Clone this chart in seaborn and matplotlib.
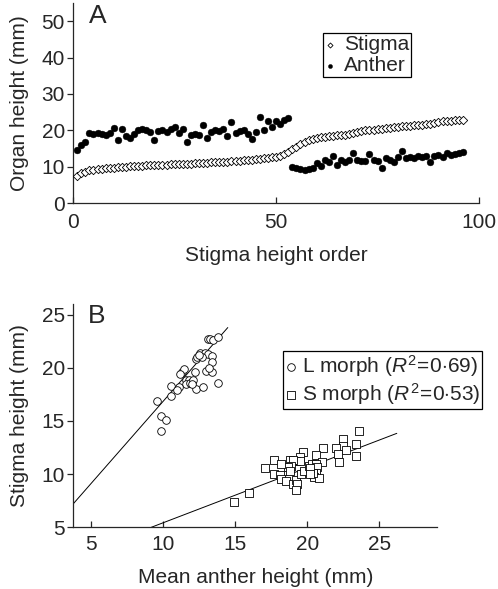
import numpy as np
import pandas as pd
import matplotlib
matplotlib.use("Agg")
import matplotlib.pyplot as plt
import seaborn as sns

# ---------------- Panel A data ----------------
stigma_a = [7.5, 8.2, 8.7, 9.0, 9.2, 9.4, 9.5, 9.6, 9.7, 9.8,
            9.9, 10.0, 10.0, 10.1, 10.2, 10.2, 10.3, 10.4, 10.4, 10.5,
            10.5, 10.6, 10.6, 10.7, 10.7, 10.8, 10.8, 10.9, 10.9, 11.0,
            11.0, 11.1, 11.1, 11.2, 11.2, 11.3, 11.4, 11.4, 11.5, 11.6,
            11.7, 11.8, 11.9, 12.0, 12.1, 12.2, 12.3, 12.5, 12.6, 12.8,
            13.0, 13.4, 14.0, 14.8, 15.5, 16.2, 16.8, 17.3, 17.7, 18.0,
            18.2, 18.3, 18.4, 18.5, 18.6, 18.7, 18.8, 19.0, 19.2, 19.5,
            19.8, 20.0, 20.1, 20.2, 20.4, 20.5, 20.6, 20.7, 20.8, 21.0,
            21.1, 21.2, 21.3, 21.4, 21.5, 21.6, 21.7, 21.8, 22.0, 22.3,
            22.6, 22.7, 22.7, 22.8, 22.8, 22.8]
anther_a = [14.6, 16.0, 16.8, 19.2, 19.0, 19.3, 19.0, 18.7, 19.4, 20.6,
            17.3, 20.3, 18.4, 18.0, 19.0, 20.2, 20.5, 20.0, 19.6, 17.4,
            19.8, 20.2, 19.6, 20.3, 21.0, 19.2, 20.5, 16.9, 18.6, 19.0,
            18.8, 21.5, 18.0, 19.6, 20.2, 19.8, 20.4, 18.5, 22.4, 19.4,
            19.8, 20.1, 19.0, 17.6, 19.5, 23.7, 20.2, 22.5, 21.0, 22.5,
            21.8, 22.8, 23.4,
            10.0, 9.6, 9.4, 9.2, 9.5, 9.8, 11.0, 10.2, 11.9, 11.2,
            13.0, 10.5, 11.9, 11.4, 11.8, 13.9, 11.9, 11.5, 11.6, 13.4,
            11.8, 11.5, 9.8, 12.3, 12.0, 11.4, 12.6, 14.3, 12.4, 12.8,
            12.5, 13.0, 12.6, 12.9, 11.4, 13.0, 13.2, 12.8, 13.8, 13.2,
            13.5, 13.9, 14.2]
order_a = list(range(1, len(stigma_a) + 1))

# ---------------- Panel B data ----------------
l_anther = [13.1, 13.3, 13.5, 13.8, 12.6, 12.9, 13.1, 12.3, 12.4, 12.7,
            13.4, 13.4, 13.0, 13.4, 12.2, 11.3, 11.5, 13.8, 11.6, 11.8,
            12.0, 11.6, 11.9, 12.1, 12.3, 12.8, 10.6, 11.1, 11.0, 10.6,
            9.6, 9.9, 10.2, 9.9, 12.5, 12.0, 11.2, 13.2]
l_stigma = [22.7, 22.7, 22.6, 22.9, 21.4, 21.4, 21.3, 20.8, 21.0, 21.0,
            21.1, 20.5, 19.7, 19.6, 19.6, 19.6, 19.9, 18.6, 18.8, 18.8,
            18.7, 18.5, 18.6, 18.8, 18.0, 18.2, 18.3, 18.2, 17.9, 17.3,
            16.9, 15.5, 15.1, 14.0, 21.2, 18.5, 19.4, 20.0]
s_anther = [23.6, 22.5, 22.5, 23.4, 22.7, 22.0, 22.1, 23.4, 22.2, 21.1,
            20.6, 21.0, 19.7, 19.5, 19.2, 19.5, 18.8, 19.0, 18.9, 18.7,
            18.8, 17.7, 18.2, 17.1, 17.7, 18.1, 18.2, 18.5, 19.0, 19.2,
            19.3, 19.2, 19.6, 19.8, 20.1, 20.3, 20.4, 20.6, 20.7, 20.6,
            20.4, 20.5, 20.8, 20.4, 20.2, 20.2, 16.0, 14.9]
s_stigma = [14.0, 13.3, 12.6, 12.8, 12.3, 12.4, 11.9, 11.7, 11.1, 12.4,
            11.8, 11.1, 12.1, 11.6, 11.2, 11.2, 11.3, 11.3, 10.8, 10.7,
            10.3, 11.3, 10.9, 10.6, 10.0, 9.9, 9.5, 9.3, 9.1, 9.4,
            9.1, 8.5, 10.0, 10.3, 10.8, 10.9, 10.5, 10.9, 10.7, 10.1,
            10.0, 9.7, 9.6, 10.1, 10.6, 10.0, 8.2, 7.4]
# fitted regression lines: slope, intercept, x-range
l_fit = {"slope": 1.55, "intercept": 1.3, "x": [3.8, 14.5]}
s_fit = {"slope": 0.52, "intercept": 0.2, "x": [9.2, 26.2]}
labels_b = ["L morph ($R^2\\!=\\!0{\\cdot}69$)", "S morph ($R^2\\!=\\!0{\\cdot}53$)"]

FS = 15

sns.set_style("ticks")
plt.rcParams["font.family"] = ["Liberation Sans", "DejaVu Sans"]
plt.rcParams["mathtext.fontset"] = "custom"
plt.rcParams["mathtext.rm"] = "Liberation Sans"
plt.rcParams["mathtext.it"] = "Liberation Sans:italic"
plt.rcParams["axes.linewidth"] = 0.9

fig = plt.figure(figsize=(4.98, 5.89), dpi=100)
axA = fig.add_axes([0.147, 0.655, 0.815, 0.34])
axB = fig.add_axes([0.147, 0.105, 0.731, 0.379])

dfA = pd.DataFrame({"order": order_a + order_a,
                    "height": stigma_a + anther_a,
                    "organ": ["Stigma"] * len(stigma_a) + ["Anther"] * len(anther_a)})
sns.scatterplot(data=dfA[dfA.organ == "Stigma"], x="order", y="height", ax=axA,
                marker="D", s=18, facecolor="white", edgecolor="black",
                linewidth=0.6, label="Stigma", zorder=3)
sns.scatterplot(data=dfA[dfA.organ == "Anther"], x="order", y="height", ax=axA,
                marker="o", s=24, color="black", edgecolor="black",
                linewidth=0.3, label="Anther", zorder=3)
axA.set_xlim(0, 100)
axA.set_ylim(0, 55)
axA.set_xticks([0, 50, 100])
axA.set_yticks([0, 10, 20, 30, 40, 50])
axA.set_xlabel("Stigma height order", fontsize=FS, labelpad=10)
axA.set_ylabel("Organ height (mm)", fontsize=FS, labelpad=9)
axA.tick_params(axis="y", direction="out", length=4, width=0.9, labelsize=FS, pad=2)
axA.tick_params(axis="x", direction="in", length=4, width=0.9, labelsize=FS, pad=7)
sns.despine(ax=axA)
axA.text(0.06, 0.935, "A", transform=axA.transAxes, fontsize=19,
         ha="center", va="center")
legA = axA.legend(loc="upper left", bbox_to_anchor=(0.615, 0.85), fontsize=FS,
                  frameon=True, fancybox=False, edgecolor="black", framealpha=1,
                  handlelength=0.5, handletextpad=0.4, borderpad=0.1,
                  labelspacing=0.1, borderaxespad=0, markerscale=0.6)
legA.get_frame().set_linewidth(0.9)

dfB = pd.DataFrame({"anther": l_anther + s_anther,
                    "stigma": l_stigma + s_stigma,
                    "morph": ["L"] * len(l_anther) + ["S"] * len(s_anther)})
sns.scatterplot(data=dfB[dfB.morph == "L"], x="anther", y="stigma", ax=axB,
                marker="o", s=30, facecolor="white", edgecolor="black",
                linewidth=0.6, label=labels_b[0], zorder=3)
sns.scatterplot(data=dfB[dfB.morph == "S"], x="anther", y="stigma", ax=axB,
                marker="s", s=26, facecolor="white", edgecolor="black",
                linewidth=0.6, label=labels_b[1], zorder=3)
for fit in (l_fit, s_fit):
    xs = np.array(fit["x"])
    sns.lineplot(x=xs, y=fit["slope"] * xs + fit["intercept"], ax=axB,
                 color="black", linewidth=0.7, zorder=2)
axB.set_xlim(3.8, 29)
axB.set_ylim(5, 26)
axB.set_xticks([5, 10, 15, 20, 25])
axB.set_yticks([5, 10, 15, 20, 25])
axB.set_xlabel("Mean anther height (mm)", fontsize=FS, labelpad=10)
axB.set_ylabel("Stigma height (mm)", fontsize=FS, labelpad=9)
axB.tick_params(axis="y", direction="out", length=4, width=0.9, labelsize=FS, pad=2)
axB.tick_params(axis="x", direction="in", length=4, width=0.9, labelsize=FS, pad=6)
sns.despine(ax=axB)
axB.text(0.065, 0.946, "B", transform=axB.transAxes, fontsize=19,
         ha="center", va="center")
legB = axB.legend(loc="upper right", bbox_to_anchor=(1.124, 0.79), fontsize=FS,
                  frameon=True, fancybox=False, edgecolor="black", framealpha=1,
                  handlelength=0.5, handletextpad=0.3, borderpad=0.1,
                  labelspacing=0.1, borderaxespad=0)
legB.get_frame().set_linewidth(0.9)

fig.savefig("out.png", dpi=100)
